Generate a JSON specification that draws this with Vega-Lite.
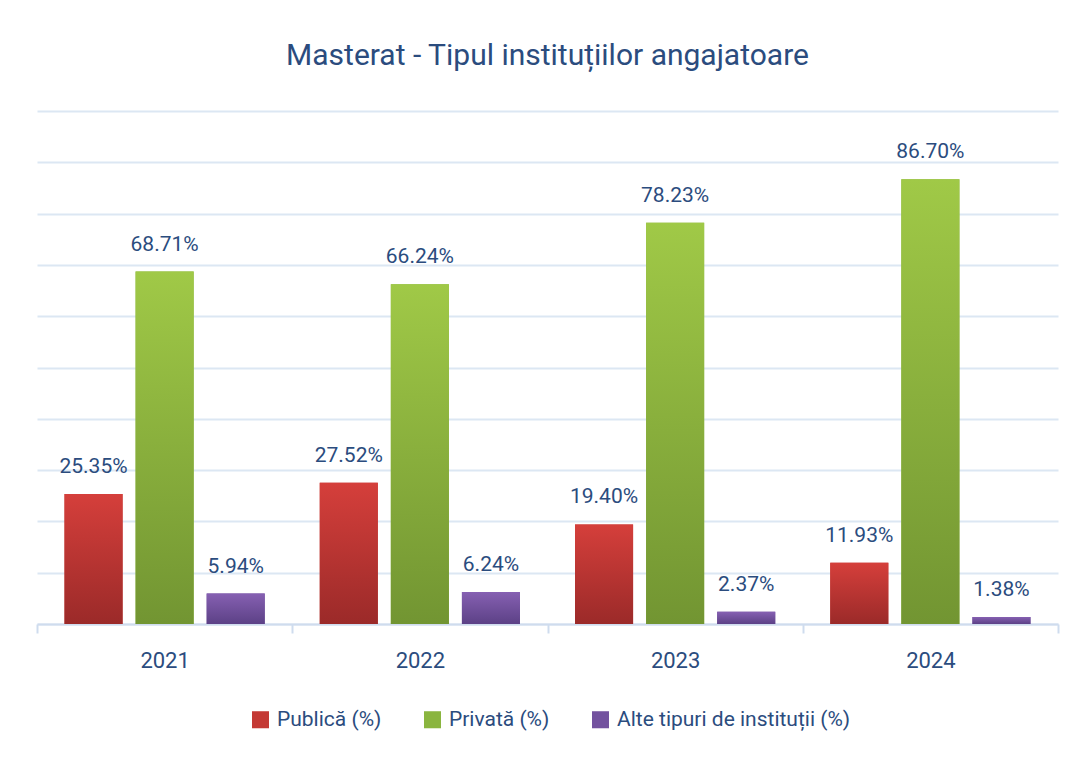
{
  "$schema": "https://vega.github.io/schema/vega-lite/v6.json",
  "width": 1021,
  "height": 513,
  "padding": {"left": 36, "right": 18, "top": 41, "bottom": 10},
  "background": "white",
  "title": {
    "text": "Masterat - Tipul instituțiilor angajatoare",
    "fontSize": 30,
    "font": "Roboto",
    "fontWeight": "normal",
    "color": "#2b4c7e",
    "offset": 40,
    "anchor": "middle"
  },
  "data": {
    "values": [
      {"year": "2021", "type": "Publică (%)", "value": 25.35},
      {"year": "2021", "type": "Privată (%)", "value": 68.71},
      {"year": "2021", "type": "Alte tipuri de instituții (%)", "value": 5.94},
      {"year": "2022", "type": "Publică (%)", "value": 27.52},
      {"year": "2022", "type": "Privată (%)", "value": 66.24},
      {"year": "2022", "type": "Alte tipuri de instituții (%)", "value": 6.24},
      {"year": "2023", "type": "Publică (%)", "value": 19.40},
      {"year": "2023", "type": "Privată (%)", "value": 78.23},
      {"year": "2023", "type": "Alte tipuri de instituții (%)", "value": 2.37},
      {"year": "2024", "type": "Publică (%)", "value": 11.93},
      {"year": "2024", "type": "Privată (%)", "value": 86.70},
      {"year": "2024", "type": "Alte tipuri de instituții (%)", "value": 1.38}
    ]
  },
  "encoding": {
    "x": {
      "field": "year",
      "type": "nominal",
      "scale": {"paddingInner": 0, "paddingOuter": 0},
      "axis": {
        "title": null,
        "labelAngle": 0,
        "labelFontSize": 22,
        "labelFont": "Roboto",
        "labelColor": "#2b4c7e",
        "labelPadding": 17,
        "domainColor": "#cfdcee",
        "domainWidth": 2,
        "tickColor": "#cfdcee",
        "tickWidth": 2,
        "tickSize": 9,
        "tickBand": "extent"
      }
    },
    "xOffset": {
      "field": "type",
      "type": "nominal",
      "sort": ["Publică (%)", "Privată (%)", "Alte tipuri de instituții (%)"],
      "scale": {"paddingInner": 0.183, "paddingOuter": 0.387}
    },
    "y": {
      "field": "value",
      "type": "quantitative",
      "scale": {"domain": [0, 100], "nice": false},
      "axis": {
        "title": null,
        "labels": false,
        "ticks": false,
        "domain": false,
        "grid": true,
        "gridColor": "#dce7f3",
        "gridWidth": 2,
        "values": [0, 10, 20, 30, 40, 50, 60, 70, 80, 90, 100]
      }
    }
  },
  "layer": [
    {
      "mark": {"type": "bar"},
      "encoding": {
        "fill": {
          "field": "type",
          "type": "nominal",
          "scale": {
            "domain": ["Publică (%)", "Privată (%)", "Alte tipuri de instituții (%)"],
            "range": ["#c43934", "#8ab53f", "#73529f"]
          },
          "legend": {
            "title": null,
            "orient": "none",
            "legendX": 213,
            "legendY": 598,
            "direction": "horizontal",
            "symbolType": "square",
            "symbolSize": 290,
            "symbolStrokeWidth": 0,
            "labelFontSize": 21,
            "labelFont": "Roboto",
            "labelColor": "#2b4c7e",
            "labelLimit": 400,
            "columnPadding": 40,
            "labelOffset": 6
          }
        }
      }
    },
    {
      "transform": [{"filter": "datum.type === 'Publică (%)'"}],
      "mark": {
        "type": "bar",
        "color": {
          "gradient": "linear", "x1": 0, "y1": 0, "x2": 0, "y2": 1,
          "stops": [{"offset": 0, "color": "#d53f3b"}, {"offset": 1, "color": "#9b2a29"}]
        }
      }
    },
    {
      "transform": [{"filter": "datum.type === 'Privată (%)'"}],
      "mark": {
        "type": "bar",
        "color": {
          "gradient": "linear", "x1": 0, "y1": 0, "x2": 0, "y2": 1,
          "stops": [{"offset": 0, "color": "#a0c947"}, {"offset": 1, "color": "#729532"}]
        }
      }
    },
    {
      "transform": [{"filter": "datum.type === 'Alte tipuri de instituții (%)'"}],
      "mark": {
        "type": "bar",
        "color": {
          "gradient": "linear", "x1": 0, "y1": 0, "x2": 0, "y2": 1,
          "stops": [{"offset": 0, "color": "#8660b2"}, {"offset": 1, "color": "#5c4186"}]
        }
      }
    },
    {
      "transform": [{"calculate": "format(datum.value, '.2f') + '%'", "as": "label"}],
      "mark": {
        "type": "text",
        "baseline": "bottom",
        "dy": -17,
        "fontSize": 21,
        "font": "Roboto",
        "color": "#2b4c7e"
      },
      "encoding": {"text": {"field": "label"}}
    }
  ],
  "config": {
    "view": {"stroke": null}
  }
}
